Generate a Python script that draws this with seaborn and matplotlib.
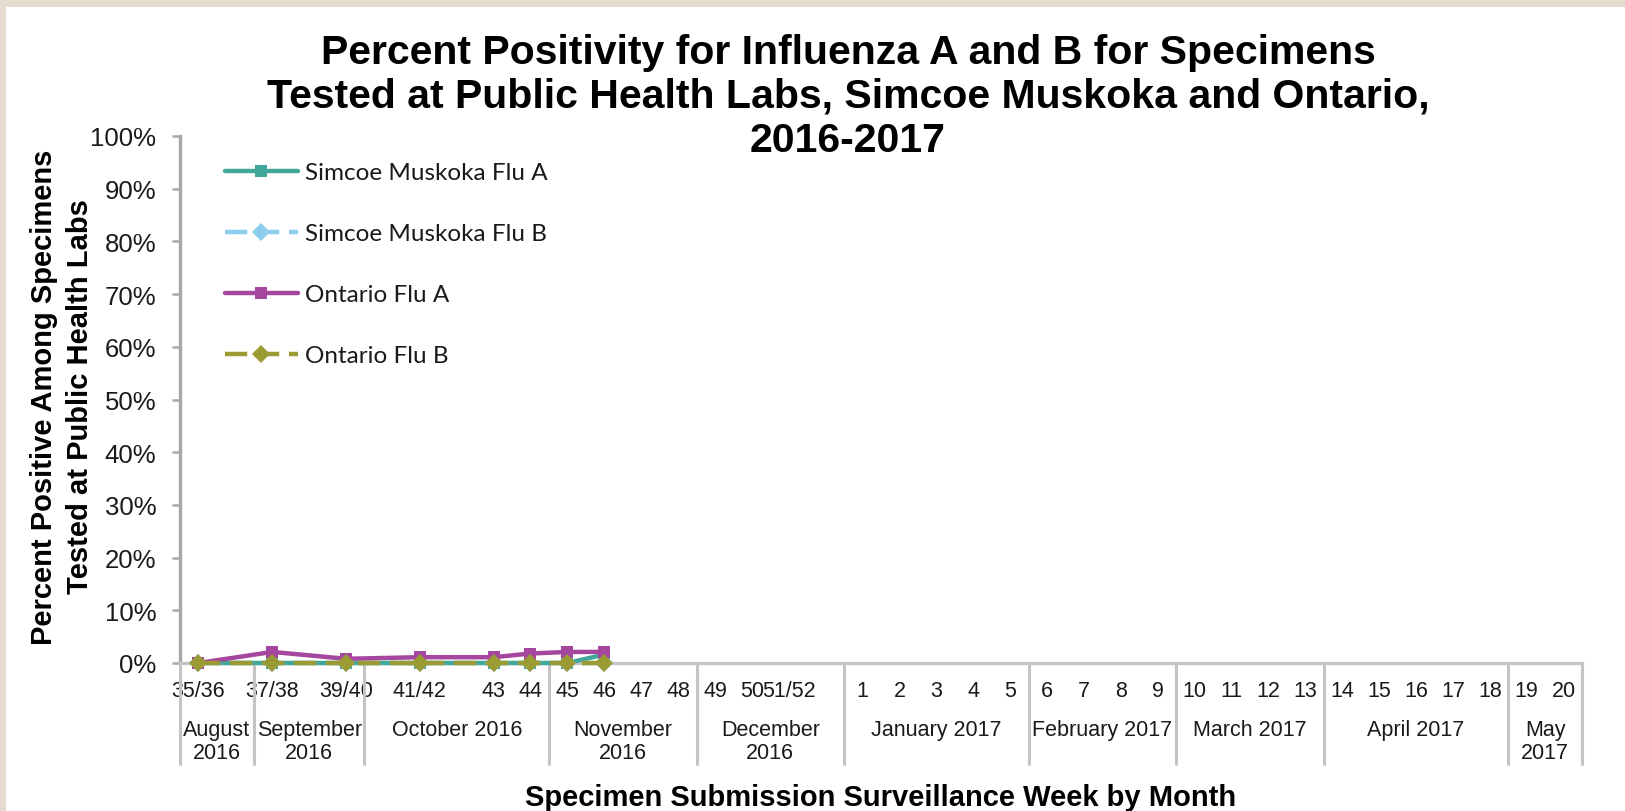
import matplotlib
matplotlib.use("Agg")
import matplotlib.pyplot as plt
import matplotlib.transforms as mtransforms
from matplotlib.lines import Line2D
from matplotlib.patches import Rectangle
import pandas as pd
import seaborn as sns

# ---------------- data ----------------
week_labels = ["35/36", "", "37/38", "", "39/40", "", "41/42", "", "43", "44",
               "45", "46", "47", "48", "49", "50", "51/52", "",
               "1", "2", "3", "4", "5", "6", "7", "8", "9", "10", "11", "12",
               "13", "14", "15", "16", "17", "18", "19", "20"]
month_labels = ["August\n2016", "September\n2016", "October 2016", "November\n2016",
                "December\n2016", "January 2017", "February 2017", "March 2017",
                "April 2017", "May\n2017"]
month_week_counts = [2, 3, 5, 4, 4, 5, 4, 4, 5, 2]

data_weeks = ["35/36", "37/38", "39/40", "41/42", "43", "44", "45", "46"]
simcoe_flu_a = [0.0, 0.0, 0.0, 0.0, 0.0, 0.0, 0.0, 1.6]
simcoe_flu_b = [0.0, 0.0, 0.0, 0.0, 0.0, 0.0, 0.0, 0.0]
ontario_flu_a = [0.0, 2.1, 0.8, 1.1, 1.1, 1.8, 2.1, 2.1]
ontario_flu_b = [0.0, 0.0, 0.0, 0.0, 0.0, 0.0, 0.0, 0.0]

series_names = ["Simcoe Muskoka Flu A", "Simcoe Muskoka Flu B",
                "Ontario Flu A", "Ontario Flu B"]
series_values = [simcoe_flu_a, simcoe_flu_b, ontario_flu_a, ontario_flu_b]
series_colors = ["#41A899", "#8DCDEE", "#A6479F", "#9C9B33"]
series_markers = ["s", "D", "s", "D"]
series_dashed = [False, True, False, True]

y_ticks = list(range(0, 101, 10))

title = ("Percent Positivity for Influenza A and B for Specimens\n"
         "Tested at Public Health Labs, Simcoe Muskoka and Ontario,\n"
         "2016-2017")
y_title = "Percent Positive Among Specimens\nTested at Public Health Labs"
x_title = "Specimen Submission Surveillance Week by Month"

# ---------------- style ----------------
sns.set_theme(style="white")
plt.rcParams["font.family"] = ["Liberation Sans", "DejaVu Sans"]

W, H = 1625, 812
fig = plt.figure(figsize=(W / 100, H / 100), dpi=100)
fig.patch.set_facecolor("#E5DBCF")
fig.patches.append(Rectangle((6 / W, 0), 1 - 6 / W, 1 - 8 / H,
                             transform=fig.transFigure, facecolor="white",
                             edgecolor="none", zorder=-10))

ax_left, ax_right, ax_bottom, ax_top = 180, 1582, 664, 137
ax = fig.add_axes([ax_left / W, 1 - ax_bottom / H,
                   (ax_right - ax_left) / W, (ax_bottom - ax_top) / H])
ax.set_facecolor("none")

pos = [week_labels.index(w) for w in data_weeks]
rows = []
for name, vals in zip(series_names, series_values):
    for p, v in zip(pos, vals):
        rows.append({"pos": p, "value": v, "series": name})
df = pd.DataFrame(rows)

for i, name in enumerate(series_names):
    ls = (0, (5.0, 2.2)) if series_dashed[i] else "-"
    msize = 8.5 if series_markers[i] == "s" else 9
    sns.lineplot(data=df[df["series"] == name], x="pos", y="value", ax=ax,
                 color=series_colors[i], marker=series_markers[i],
                 markersize=msize, markeredgewidth=0, linewidth=3.2,
                 linestyle=ls, label=name, zorder=3 + i, clip_on=False)

ax.set_xlim(-0.5, len(week_labels) - 0.5)
ax.set_ylim(0, 100)

axis_gray = "#A8A8A8"
sep_gray = "#C4C4C4"
for s in ["top", "right"]:
    ax.spines[s].set_visible(False)
ax.spines["left"].set_color(axis_gray)
ax.spines["left"].set_linewidth(2.4)
ax.spines["bottom"].set_color(sep_gray)
ax.spines["bottom"].set_linewidth(2.4)

ax.set_yticks(y_ticks)
ax.set_yticklabels([f"{t}%" for t in y_ticks], fontsize=18.5, color="#1A1A1A")
ax.tick_params(axis="y", direction="out", length=6, width=1.8,
               color=axis_gray, pad=11, left=True)
ax.set_xticks(range(len(week_labels)))
ax.set_xticklabels(week_labels, fontsize=15.5, color="#1A1A1A")
ax.tick_params(axis="x", length=0, pad=12, bottom=True)
ax.set_xlabel("")
ax.set_ylabel("")

# month grouping
trans = mtransforms.blended_transform_factory(ax.transData, ax.transAxes)
sep_bottom = (ax_bottom - 765) / (ax_bottom - ax_top)
month_top = (ax_bottom - 720) / (ax_bottom - ax_top)
bounds = [-0.5]
for cnt in month_week_counts:
    bounds.append(bounds[-1] + cnt)
for b in bounds:
    ax.add_line(Line2D([b, b], [0, sep_bottom], transform=trans,
                       color=sep_gray, linewidth=2.2, clip_on=False, zorder=1))
for lbl, a, b in zip(month_labels, bounds[:-1], bounds[1:]):
    ax.text((a + b) / 2, month_top, lbl, transform=trans, ha="center",
            va="top", fontsize=15.5, color="#1A1A1A", linespacing=1.12)

# legend
leg = ax.legend(loc="upper left",
                bbox_to_anchor=((225 - ax_left) / (ax_right - ax_left),
                                (ax_bottom - 163) / (ax_bottom - ax_top)),
                frameon=False, borderaxespad=0, borderpad=0, handlelength=3.0,
                handletextpad=0.3, labelspacing=1.65,
                prop={"family": "Lato", "size": 17.5})
for t in leg.get_texts():
    t.set_color("#1A1A1A")

# titles
fig.text(848 / W, 1 - 34 / H, title, ha="center", va="top", fontsize=29.5,
         fontweight="bold", color="black", linespacing=1.2)
fig.text(62 / W, 1 - 397 / H, y_title, ha="center", va="center", rotation=90,
         fontsize=21, fontweight="bold", color="black", linespacing=1.35)
fig.text((ax_left + ax_right) / 2 / W, 1 - 798 / H, x_title, ha="center",
         va="center", fontsize=21, fontweight="bold", color="black")

fig.savefig("out.png", dpi=100, facecolor=fig.get_facecolor())
